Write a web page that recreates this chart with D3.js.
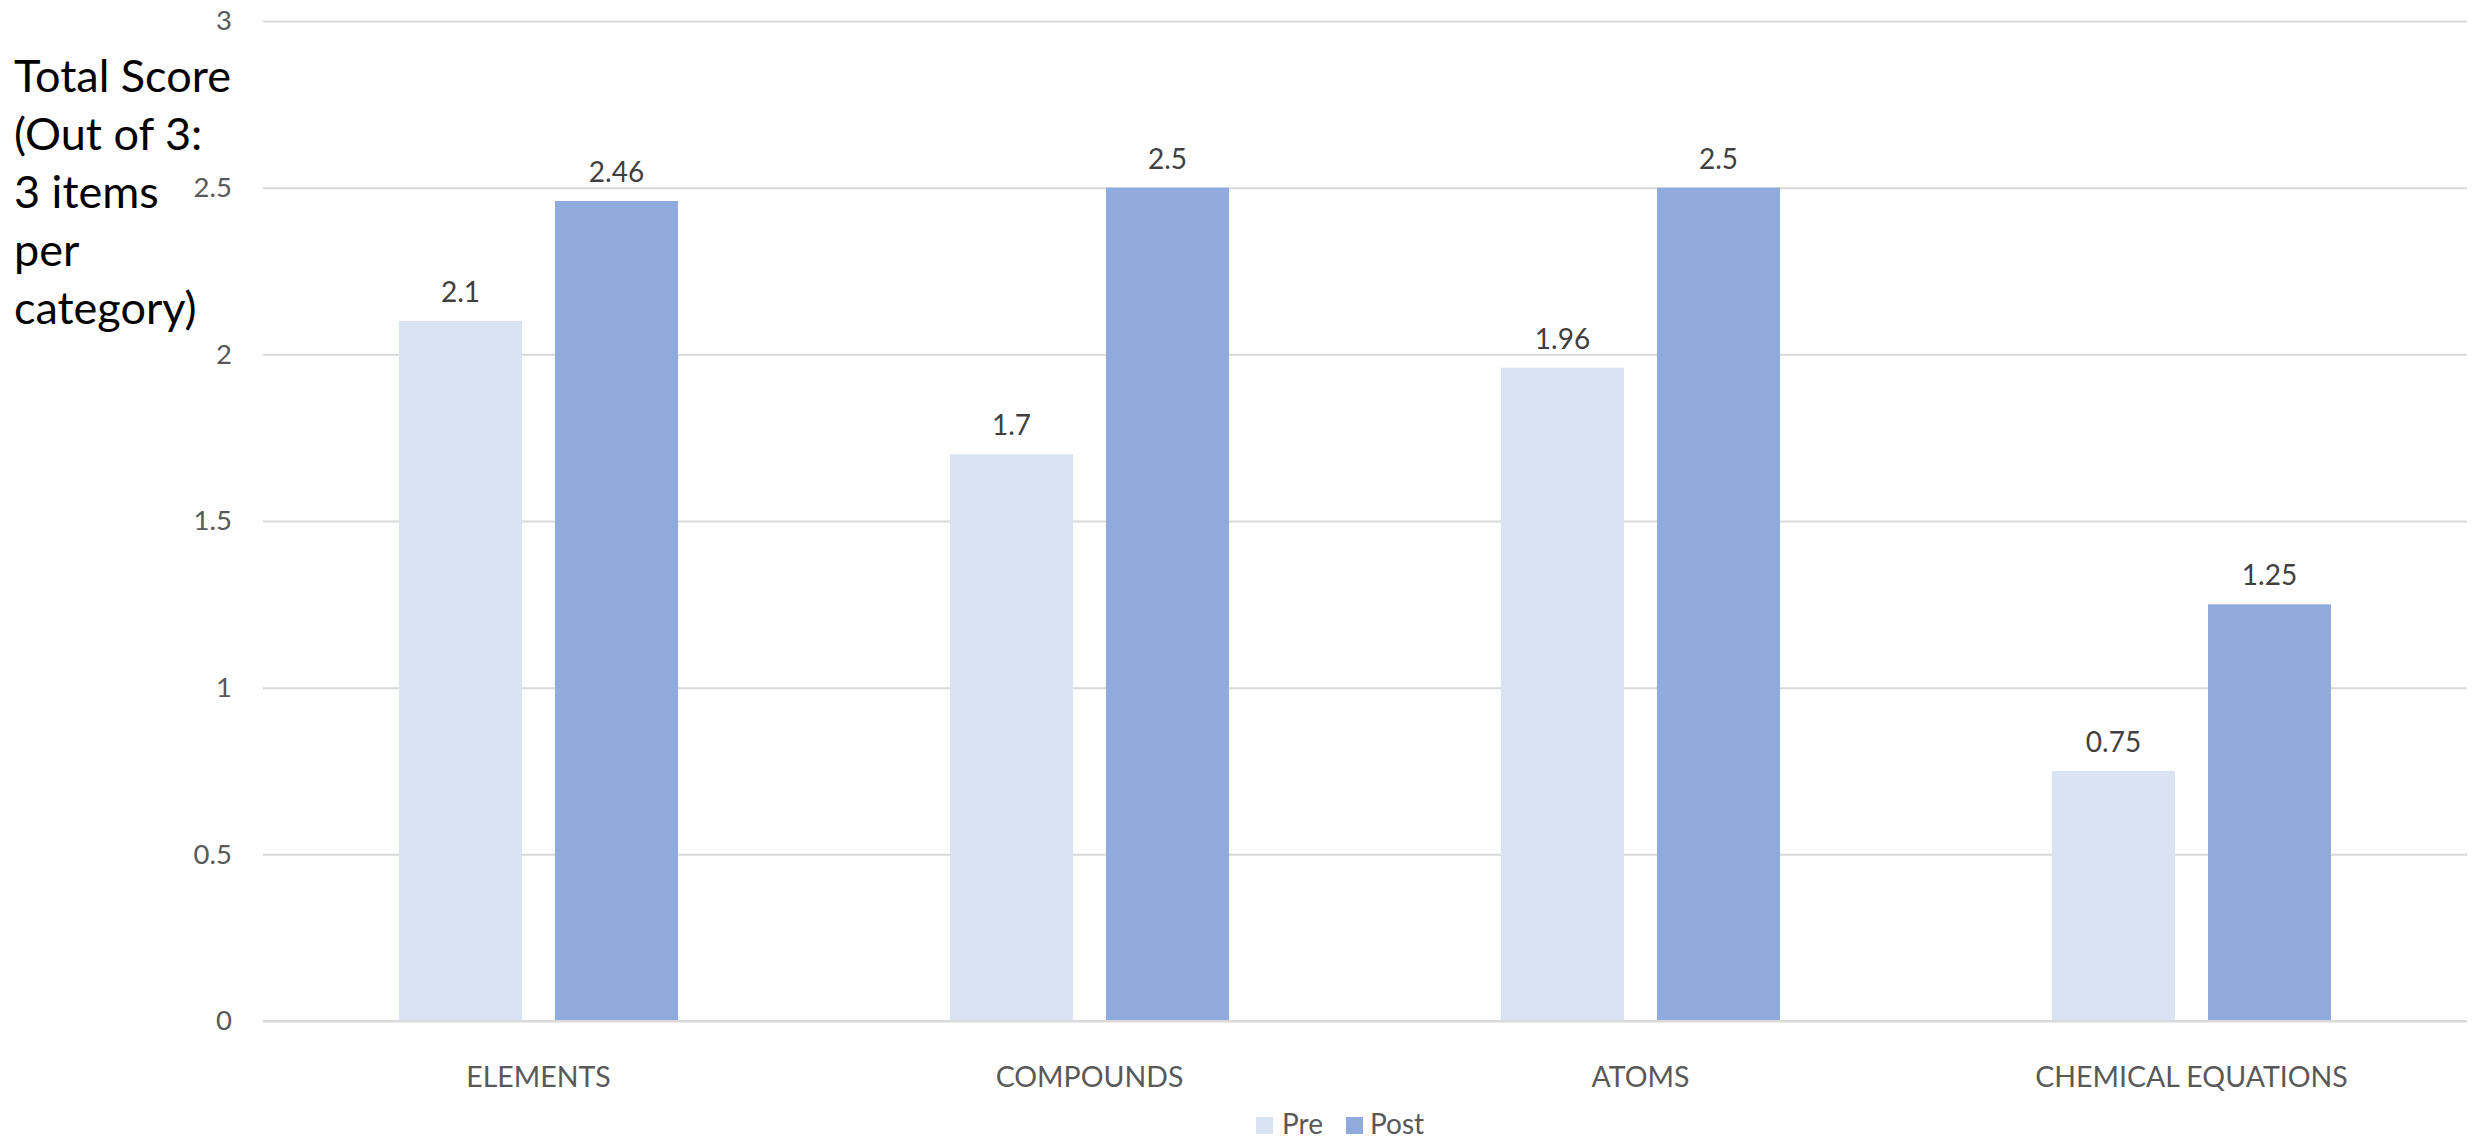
<!DOCTYPE html>
<html>
<head>
<meta charset="utf-8">
<script src="https://cdn.jsdelivr.net/npm/d3@7"></script>
<style>
  html, body { margin: 0; padding: 0; background: #ffffff; }
  svg { display: block; }
  text { font-family: Lato, "Open Sans", sans-serif; }
</style>
</head>
<body>
<svg id="chart" width="2483" height="1139"></svg>
<script>
// Mean scores per topic, before and after instruction
const categories = ["ELEMENTS", "COMPOUNDS", "ATOMS", "CHEMICAL EQUATIONS"];
const seriesNames = ["Pre", "Post"];
const preScores = [2.1, 1.7, 1.96, 0.75];
const postScores = [2.46, 2.5, 2.5, 1.25];
const yTicks = [0, 0.5, 1, 1.5, 2, 2.5, 3];
const yTitleLines = ["Total Score", "(Out of 3:", "3 items", "per", "category)"];

const colors = { Pre: "#DAE3F3", Post: "#8FAADC" };

const svg = d3.select("#chart");
const plot = { left: 263, right: 2467, top: 21, bottom: 1021 };

const x0 = d3.scaleBand()
  .domain(categories)
  .range([plot.left, plot.right])
  .padding(0);

const x1 = d3.scaleBand()
  .domain(seriesNames)
  .range([0, x0.bandwidth()])
  .paddingInner(0.2115)
  .paddingOuter(0.872);

const y = d3.scaleLinear()
  .domain([0, 3])
  .range([plot.bottom, plot.top]);

// Horizontal gridlines and value labels on the left
const yAxis = d3.axisLeft(y)
  .tickValues(yTicks)
  .tickSize(-(plot.right - plot.left))
  .tickPadding(31)
  .tickFormat(d3.format("~g"));

const gy = svg.append("g")
  .attr("transform", `translate(${plot.left},0)`)
  .call(yAxis);
gy.select(".domain").remove();
gy.selectAll(".tick line")
  .attr("stroke", "#D9D9D9")
  .attr("stroke-width", 2);
gy.selectAll(".tick text")
  .attr("fill", "#595959")
  .style("font-size", "27.5px")
  .style("font-family", "Lato, 'Open Sans', sans-serif");

// Category axis along the baseline
const xAxis = d3.axisBottom(x0).tickSize(0).tickPadding(46);
const gx = svg.append("g")
  .attr("transform", `translate(0,${plot.bottom})`)
  .call(xAxis);
gx.select(".domain").remove();
gx.selectAll(".tick text")
  .attr("fill", "#595959")
  .style("font-size", "28.5px")
  .style("font-family", "Lato, 'Open Sans', sans-serif");

// Grouped bars
const rows = categories.map((c, i) => ({
  category: c,
  values: [
    { key: "Pre", value: preScores[i] },
    { key: "Post", value: postScores[i] }
  ]
}));

const groups = svg.append("g")
  .selectAll("g")
  .data(rows)
  .join("g")
  .attr("transform", d => `translate(${x0(d.category)},0)`);

groups.selectAll("rect")
  .data(d => d.values)
  .join("rect")
  .attr("x", d => x1(d.key))
  .attr("y", d => y(d.value))
  .attr("width", x1.bandwidth())
  .attr("height", d => y(0) - y(d.value))
  .attr("fill", d => colors[d.key]);

groups.selectAll("text.value")
  .data(d => d.values)
  .join("text")
  .attr("class", "value")
  .attr("x", d => x1(d.key) + x1.bandwidth() / 2)
  .attr("y", d => y(d.value) - 19)
  .attr("text-anchor", "middle")
  .attr("fill", "#404040")
  .style("font-size", "28px")
  .text(d => d3.format("~g")(d.value));

// Baseline drawn over the bars
svg.append("line")
  .attr("x1", plot.left).attr("x2", plot.right)
  .attr("y1", y(0)).attr("y2", y(0))
  .attr("stroke", "#D9D9D9")
  .attr("stroke-width", 2);

// Wrapped vertical-axis title
svg.append("text")
  .attr("x", 14)
  .attr("y", 92)
  .attr("fill", "#000000")
  .style("font-size", "45px")
  .selectAll("tspan")
  .data(yTitleLines)
  .join("tspan")
  .attr("x", 14)
  .attr("y", (d, i) => 92 + i * 58)
  .text(d => d);

// Legend
const legendItems = [
  { key: "Pre", sx: 1256, tx: 1282 },
  { key: "Post", sx: 1346, tx: 1370 }
];
const legend = svg.append("g");
legend.selectAll("rect")
  .data(legendItems)
  .join("rect")
  .attr("x", d => d.sx)
  .attr("y", 1117)
  .attr("width", 17)
  .attr("height", 17)
  .attr("fill", d => colors[d.key]);
legend.selectAll("text")
  .data(legendItems)
  .join("text")
  .attr("x", d => d.tx)
  .attr("y", 1134)
  .attr("fill", "#595959")
  .style("font-size", "28px")
  .text(d => d.key);
</script>
</body>
</html>
